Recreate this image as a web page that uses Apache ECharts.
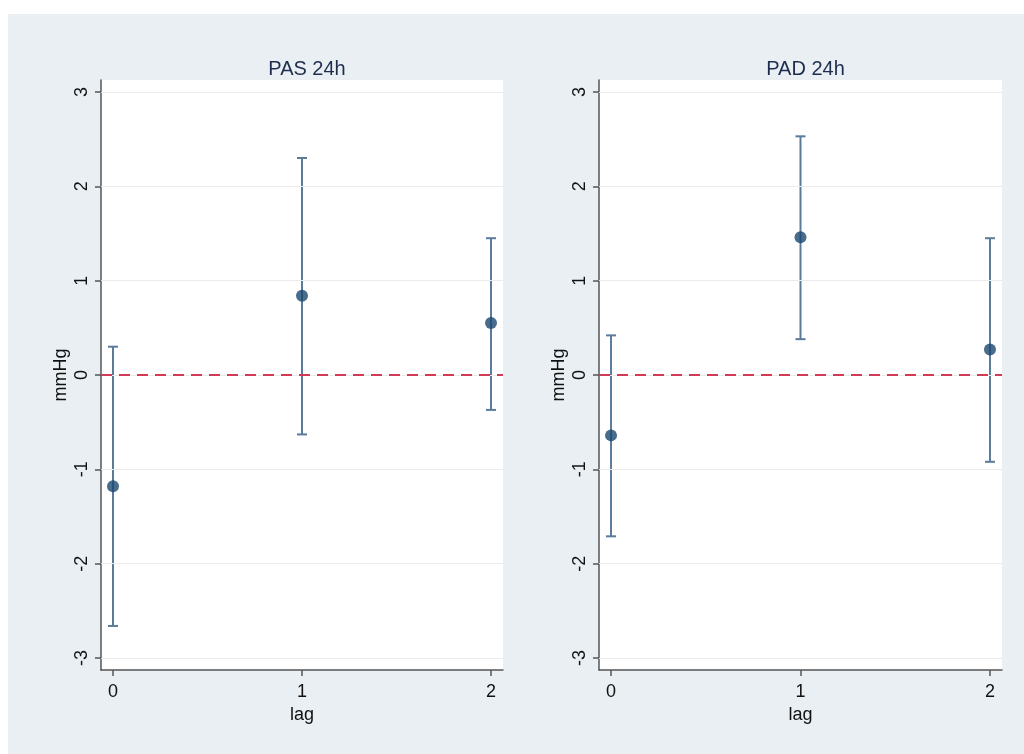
<!DOCTYPE html>
<html><head><meta charset="utf-8">
<script src="https://cdn.jsdelivr.net/npm/echarts@6/dist/echarts.min.js"></script>
<style>html,body{margin:0;padding:0;background:#fff;}#c{width:1024px;height:754px;}</style>
</head><body><div id="c"></div>
<script>
const panelTitles = ["PAS 24h", "PAD 24h"];
const lags = [0, 1, 2];
const pasEst = [-1.18, 0.84, 0.55];
const pasLow = [-2.66, -0.63, -0.37];
const pasHigh = [0.30, 2.30, 1.45];
const padEst = [-0.64, 1.46, 0.27];
const padLow = [-1.71, 0.38, -0.92];
const padHigh = [0.42, 2.53, 1.45];
const yTicks = [-3, -2, -1, 0, 1, 2, 3];
const xTicks = [0, 1, 2];
const yName = "mmHg";
const xName = "lag";

const FONT = "Liberation Sans, Arial, sans-serif";
const panels = [
  {est: pasEst, low: pasLow, high: pasHigh},
  {est: padEst, low: padLow, high: padHigh}
];
const grids = [
  {left: 101, top: 80, width: 402, height: 590},
  {left: 599, top: 80, width: 403, height: 590}
];

const option = {
  animation: false,
  backgroundColor: '#ffffff',
  graphic: [{type: 'rect', z: -10, shape: {x: 8, y: 14, width: 1016, height: 740}, style: {fill: '#e9eff2'}}],
  title: panelTitles.map((t, i) => ({
    text: t, left: grids[i].left + grids[i].width / 2, top: 54, textAlign: 'center',
    textStyle: {fontFamily: FONT, fontSize: 20, fontWeight: 'normal', color: '#1e2d4f'}
  })),
  grid: grids.map(g => Object.assign({show: true, backgroundColor: '#ffffff', borderWidth: 0}, g)),
  xAxis: grids.map((g, i) => ({
    type: 'value', gridIndex: i, min: -0.0635, max: 2.0635,
    name: xName, nameLocation: 'middle', nameGap: 36,
    nameTextStyle: {fontFamily: FONT, fontSize: 18, color: '#111'},
    axisLine: {show: true, onZero: false, lineStyle: {color: '#555', width: 1.5}},
    axisTick: {show: true, length: 6, lineStyle: {color: '#555', width: 1.5}, customValues: xTicks},
    axisLabel: {fontFamily: FONT, fontSize: 18, color: '#111', margin: 13, customValues: xTicks},
    splitLine: {show: false}
  })),
  yAxis: grids.map((g, i) => ({
    type: 'value', gridIndex: i, min: -3.127, max: 3.127,
    name: yName, nameLocation: 'middle', nameGap: 31, nameRotate: 90,
    nameTextStyle: {fontFamily: FONT, fontSize: 18, color: '#111'},
    axisLine: {show: true, onZero: false, lineStyle: {color: '#555', width: 1.5}},
    axisTick: {show: true, length: 6, lineStyle: {color: '#555', width: 1.5}, customValues: yTicks},
    axisLabel: {fontFamily: FONT, fontSize: 18, color: '#111', rotate: 90, margin: 10, customValues: yTicks},
    splitLine: {show: false}
  })),
  series: []
};

panels.forEach((p, i) => {
  option.series.push({
    type: 'line', xAxisIndex: i, yAxisIndex: i, data: [], silent: true,
    markLine: {
      silent: true, symbol: 'none', label: {show: false}, animation: false,
      data: yTicks.map(v => ({yAxis: v, lineStyle: {color: '#ebebeb', width: 1.2, type: 'solid'}}))
    }
  });
  option.series.push({
    type: 'line', xAxisIndex: i, yAxisIndex: i, data: [], silent: true, z: 3,
    markLine: {
      silent: true, symbol: 'none', label: {show: false}, animation: false,
      data: [{yAxis: 0, lineStyle: {color: '#d23a55', width: 2, type: [11, 7]}}]
    }
  });
  option.series.push({
    type: 'custom', xAxisIndex: i, yAxisIndex: i, z: 4,
    data: lags.map((x, k) => [x, p.low[k], p.high[k]]),
    renderItem: function (params, api) {
      const x = api.value(0);
      const lo = api.coord([x, api.value(1)]);
      const hi = api.coord([x, api.value(2)]);
      const w = 5;
      const st = {stroke: '#5a7b9c', lineWidth: 2};
      return {type: 'group', children: [
        {type: 'line', shape: {x1: lo[0], y1: lo[1], x2: hi[0], y2: hi[1]}, style: st},
        {type: 'line', shape: {x1: lo[0] - w, y1: lo[1], x2: lo[0] + w, y2: lo[1]}, style: st},
        {type: 'line', shape: {x1: hi[0] - w, y1: hi[1], x2: hi[0] + w, y2: hi[1]}, style: st}
      ]};
    }
  });
  option.series.push({
    type: 'scatter', xAxisIndex: i, yAxisIndex: i, z: 5, symbol: 'circle', symbolSize: 12,
    itemStyle: {color: '#1a476f'},
    data: lags.map((x, k) => [x, p.est[k]])
  });
});

const chart = echarts.init(document.getElementById('c'), null, {renderer: 'canvas'});
chart.setOption(option);
</script></body></html>
